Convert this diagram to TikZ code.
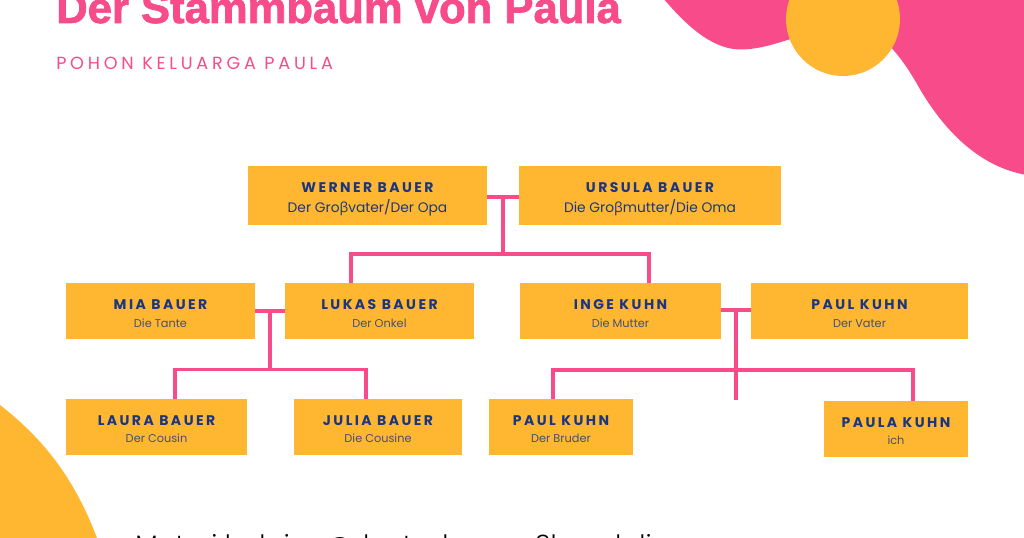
\documentclass[tikz,border=0pt]{standalone}
\usepackage{fontspec}
\setmainfont{Poppins}
\newfontfamily\titlefont[FakeBold=1.6]{Liberation Sans Bold}
\newfontfamily\subhead[LetterSpace=21.5]{Poppins}
\newfontfamily\namefont[LetterSpace=17.5]{Poppins}
\newfontfamily\gkfont{Open Sans}
\newfontfamily\creditfont{Poppins Light}
\usetikzlibrary{calc}
\definecolor{pinkc}{HTML}{F74B8A}
\definecolor{yellowc}{HTML}{FFB731}
\definecolor{navyc}{HTML}{1A3680}
\definecolor{grayc}{HTML}{45506E}
\newcommand{\bigname}[1]{{\fontsize{10.5}{12}\namefont\bfseries\color{navyc}#1}}
\newcommand{\subA}[1]{{\fontsize{10.35}{12}\selectfont\color{navyc}#1}}
\newcommand{\subB}[1]{{\fontsize{8.5}{12}\selectfont\color{grayc}#1}}
\tikzset{
  x=0.75pt,y=-0.75pt,
  famlink/.style={draw=pinkc,line width=2.3pt},
  person/.style={fill=yellowc,inner sep=0pt,outer sep=0pt,align=center,anchor=north west},
}
\newcommand{\personbox}[9]{% name, x0,y0,x1,y1, line1, line2, strut, gap
  \node[person,minimum width={(#4-#2)*0.75pt},minimum height={(#5-#3)*0.75pt}] (#1) at (#2,#3) {\rule{0pt}{#8pt}#6\\[#9pt]#7};}
\begin{document}
\begin{tikzpicture}
\useasboundingbox (0,0) rectangle (1024,538);
\clip (0,0) rectangle (1024,538);
% blobs
\fill[pinkc] (663,-2) .. controls (690,30) and (715,50) .. (742,49.5)
  .. controls (760,49) and (775,44) .. (800,36) -- (880,36)
  .. controls (900,55) and (910,72) .. (917,84)
  .. controls (940,125) and (975,165) .. (1024,174.5)
  -- (1024,-2) -- cycle;
\fill[yellowc] (843,19) circle[radius=57];
\fill[yellowc] (0,405) .. controls (45,440) and (75,480) .. (97,538) -- (0,538) -- cycle;
% titles
\node[anchor=base west,inner sep=0pt,pinkc] (title) at (56,23) {\fontsize{32.7}{40}\titlefont Der Stammbaum von Paula};
\node[anchor=base west,inner sep=0pt,pinkc] (subtitle) at (56,70) {\fontsize{13.2}{14}\subhead POHON KELUARGA PAULA};
\node[anchor=base west,inner sep=0pt,black] (credit) at (135,554) {\fontsize{20}{24}\creditfont Materi belajar @deutschsman3bandali};
% people
\personbox{werner}{248}{166}{487}{225}{\bigname{WERNER BAUER}}{\subA{Der Gro{\gkfont β}vater/Der Opa}}{13}{3.1}
\personbox{ursula}{519}{166}{781}{225}{\bigname{URSULA BAUER}}{\subA{Die Gro{\gkfont β}mutter/Die Oma}}{13}{3.1}
\personbox{mia}{66}{283}{255}{339}{\bigname{MIA BAUER}}{\subB{Die Tante}}{11.5}{1.6}
\personbox{lukas}{285}{283}{474}{339}{\bigname{LUKAS BAUER}}{\subB{Der Onkel}}{11.5}{1.6}
\personbox{inge}{520}{283}{721}{339}{\bigname{INGE KUHN}}{\subB{Die Mutter}}{11.5}{1.6}
\personbox{paul}{751}{283}{968}{339}{\bigname{PAUL KUHN}}{\subB{Der Vater}}{11.5}{1.6}
\personbox{laura}{66}{399}{247}{455}{\bigname{LAURA BAUER}}{\subB{Der Cousin}}{10.75}{0.85}
\personbox{julia}{294}{399}{462}{455}{\bigname{JULIA BAUER}}{\subB{Die Cousine}}{10.75}{0.85}
\personbox{bruder}{489}{399}{633}{455}{\bigname{PAUL KUHN}}{\subB{Der Bruder}}{10.75}{0.85}
\personbox{paula}{824}{401}{968}{457}{\bigname{PAULA KUHN}}{\subB{ich}}{10.75}{0.85}
% junctions
\coordinate (j1) at (503,197);
\coordinate (j2) at (503,254);
\coordinate (j2l) at (351,254);
\coordinate (j2r) at (649,254);
\coordinate (j3) at (270,311);
\coordinate (j4) at (270,369.5);
\coordinate (j4l) at (175,369.5);
\coordinate (j4r) at (366,369.5);
\coordinate (j5) at (736,310);
\coordinate (j6l) at (553,370);
\coordinate (j6r) at (913,370);
\coordinate (stub) at (736,400);
% connectors
\draw[famlink] (werner.east |- j1) -- (ursula.west |- j1);
\draw[famlink] (j1) -- (j2);
\draw[famlink] (j2l |- lukas.north) -- (j2l) -- (j2r) -- (j2r |- inge.north);
\draw[famlink] (mia.east |- j3) -- (lukas.west |- j3);
\draw[famlink] (j3) -- (j4);
\draw[famlink] (j4l |- laura.north) -- (j4l) -- (j4r) -- (j4r |- julia.north);
\draw[famlink] (inge.east |- j5) -- (paul.west |- j5);
\draw[famlink] (j5) -- (stub);
\draw[famlink] (j6l |- bruder.north) -- (j6l) -- (j6r) -- (j6r |- paula.north);
\end{tikzpicture}
\end{document}
